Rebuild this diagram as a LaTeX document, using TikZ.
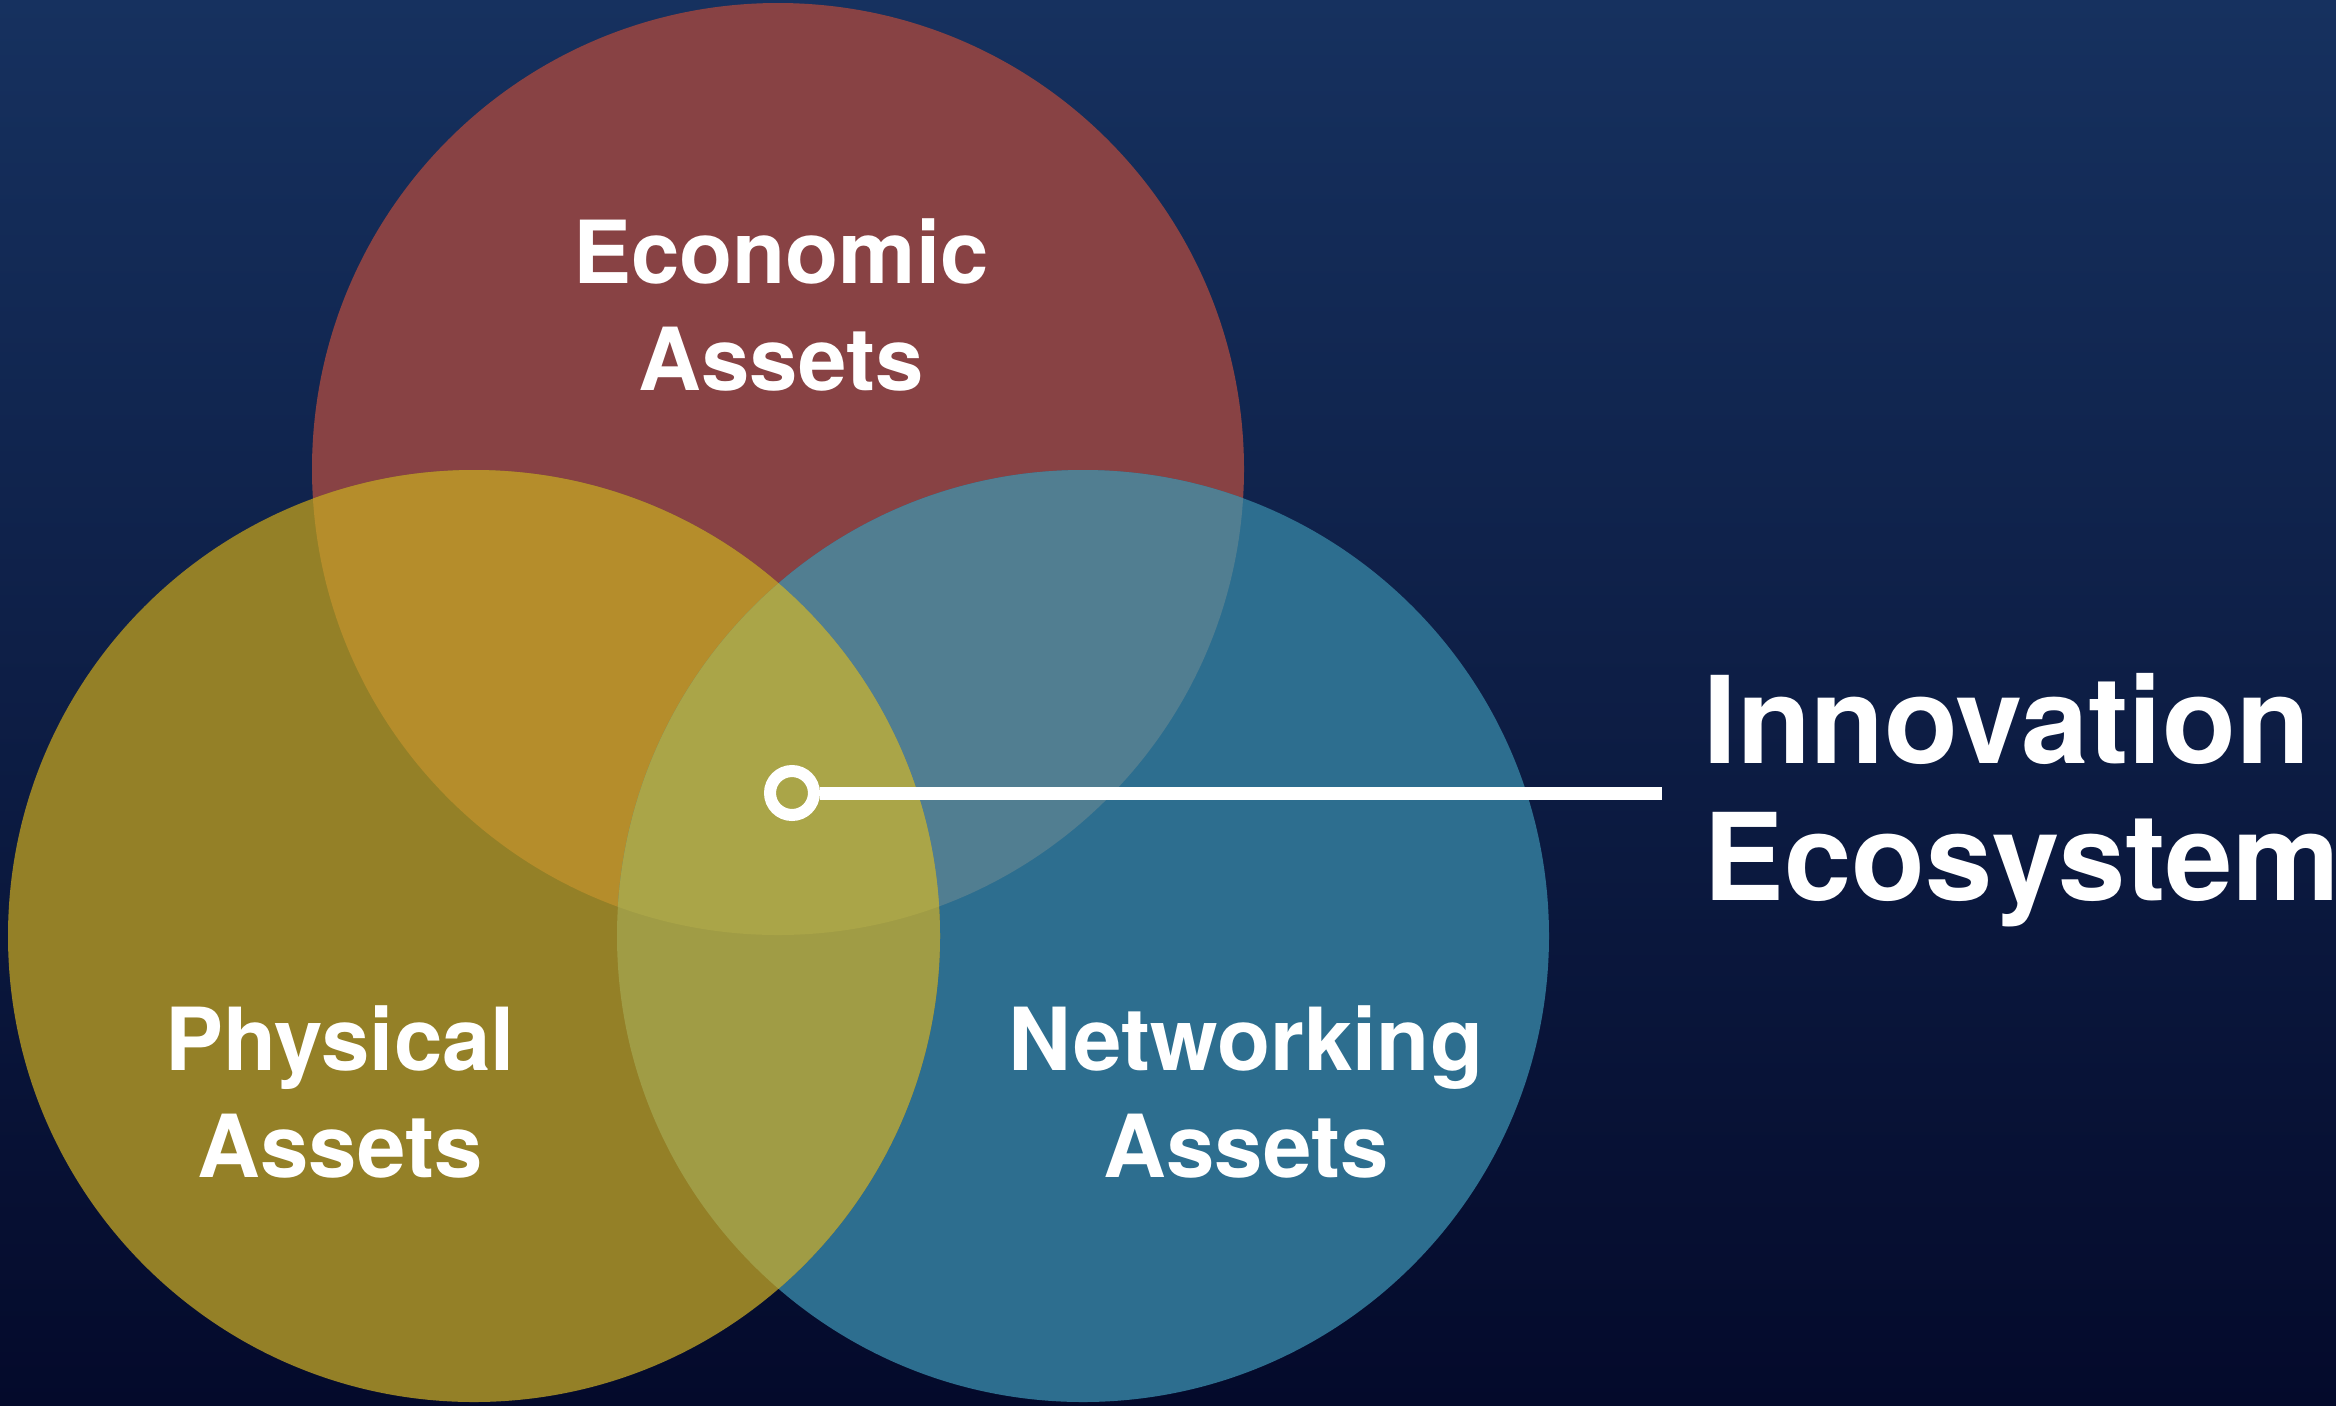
\documentclass[tikz,border=0pt]{standalone}
\usepackage{fontspec}
\setmainfont{TeX Gyre Heros}
\definecolor{bgtop}{HTML}{16315F}
\definecolor{bgbot}{HTML}{040A2B}
\definecolor{ecol}{HTML}{884244}
\definecolor{pcol}{HTML}{948027}
\definecolor{ncol}{HTML}{2D6E8F}
\definecolor{epcol}{HTML}{B58D2B}
\definecolor{encol}{HTML}{517E91}
\definecolor{pncol}{HTML}{A09C45}
\definecolor{epncol}{HTML}{AAA548}
\begin{document}
\begin{tikzpicture}[x=0.5pt,y=-0.5pt,
  lbl/.style={text=white,font=\bfseries\fontsize{43.5}{52}\selectfont,anchor=base,inner sep=0pt},
  big/.style={text=white,font=\bfseries\fontsize{60.5}{70}\selectfont,anchor=base west,inner sep=0pt},
  ring/.style={circle,draw=white,line width=6pt,minimum size=22pt,inner sep=0pt},
  leader/.style={draw=white,line width=6.5pt}]
\shade[top color=bgtop,bottom color=bgbot] (0,0) rectangle (2336,1405);
\useasboundingbox (0,0) rectangle (2336,1405);
\coordinate (E) at (778,469);
\coordinate (P) at (474,936);
\coordinate (N) at (1083,936);
\def\R{466}
% base circles
\fill[ecol] (E) circle[radius=\R];
\fill[ncol] (N) circle[radius=\R];
\fill[pcol] (P) circle[radius=\R];
% pairwise overlaps
\begin{scope}
  \clip (E) circle[radius=\R];
  \fill[epcol] (P) circle[radius=\R];
  \fill[encol] (N) circle[radius=\R];
\end{scope}
\begin{scope}
  \clip (P) circle[radius=\R];
  \fill[pncol] (N) circle[radius=\R];
\end{scope}
% triple overlap
\begin{scope}
  \clip (E) circle[radius=\R];
  \clip (P) circle[radius=\R];
  \fill[epncol] (N) circle[radius=\R];
\end{scope}
% labels
\node[lbl] (eco1) at (781,283) {Economic};
\node[lbl] (eco2) at (781,390) {Assets};
\node[lbl] (phy1) at (340,1070) {Physical};
\node[lbl] (phy2) at (340,1177) {Assets};
\node[lbl] (net1) at (1246,1070) {Networking};
\node[lbl] (net2) at (1246,1177) {Assets};
% callout
\node[ring] (dot) at (792,793) {};
\coordinate (lineend) at (1662,793);
\draw[leader] (dot.east) -- (lineend);
\node[big] (inno1) at (1703,763) {Innovation};
\node[big] (inno2) at (1703,900) {Ecosystem};
\end{tikzpicture}
\end{document}
